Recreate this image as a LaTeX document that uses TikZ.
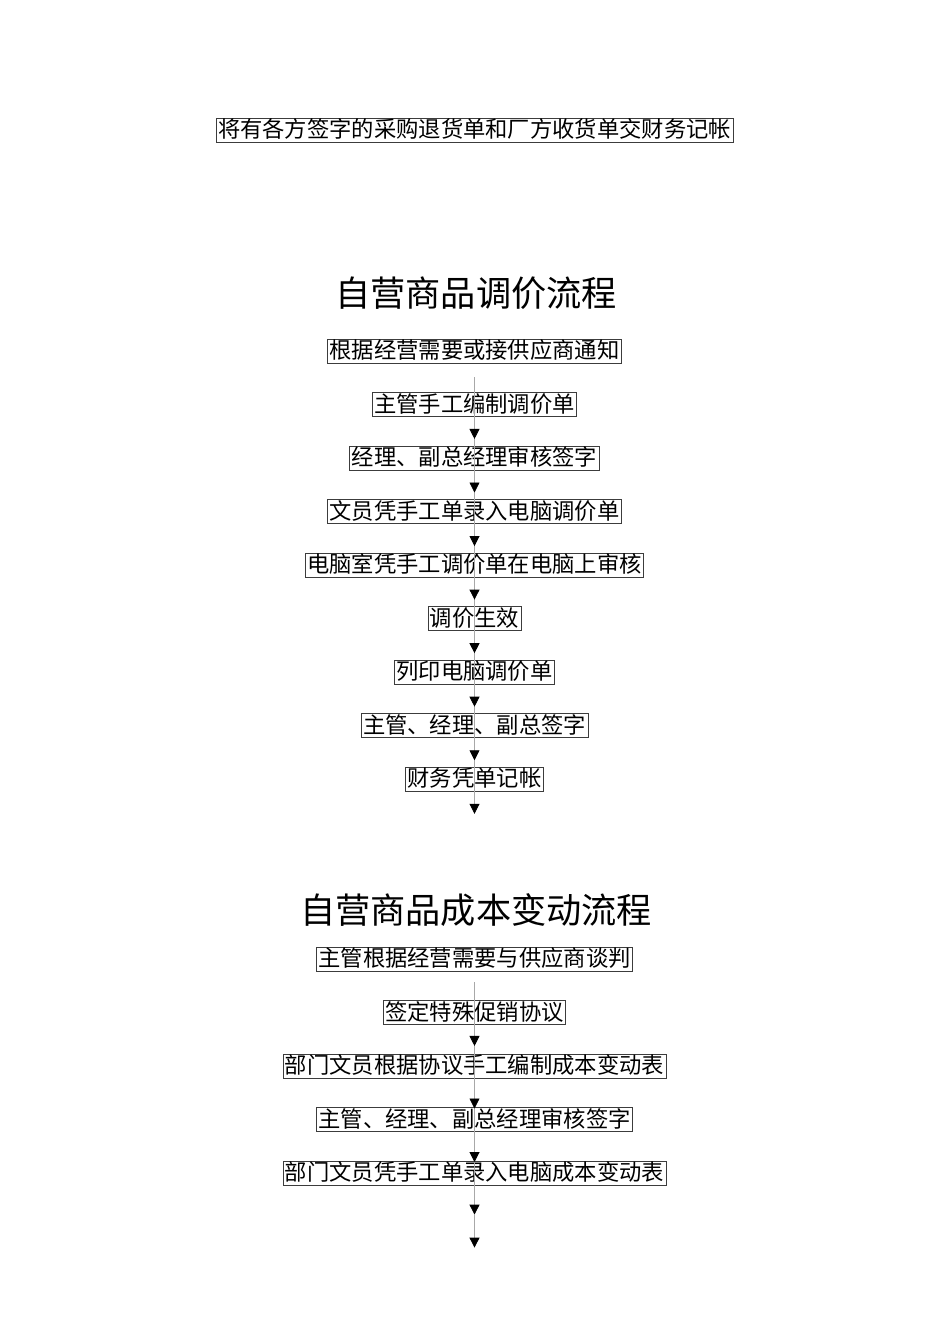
\documentclass[tikz,border=0pt]{standalone}
\usepackage{fontspec}
\newfontfamily\cjk{Noto Sans CJK SC}
\usetikzlibrary{arrows.meta,positioning}
\definecolor{flowgray}{HTML}{A8A8A8}
\definecolor{boxgray}{HTML}{3C3C3C}

\begin{document}
\begin{tikzpicture}[x=1pt,y=-1pt,node distance=28.75pt,
    stepbox/.style={draw=boxgray, line width=0.8pt, inner xsep=2pt, inner ysep=1pt,
        text height=18.5pt, text depth=3.5pt, font=\cjk\fontsize{22.3}{22.3}\selectfont},
    heading/.style={font=\cjk\fontsize{35.2}{35.2}\selectfont},
    flow/.style={draw=flowgray, line width=0.8pt},
    arr/.style={flow, -{Triangle[width=10pt,length=10pt,color=black]}}]
\useasboundingbox (0,0) rectangle (950,1344);

% closing step of the previous flow
\node[stepbox] (last) at (474.5,130) {将有各方签字的采购退货单和厂方收货单交财务记帐};

% price adjustment flow
\node[heading] (title1) at (476,293) {自营商品调价流程};
\node[stepbox] (a1) at (474.5,351) {根据经营需要或接供应商通知};
\node[stepbox, below=of a1] (a2) {主管手工编制调价单};
\node[stepbox, below=of a2] (a3) {经理、副总经理审核签字};
\node[stepbox, below=of a3] (a4) {文员凭手工单录入电脑调价单};
\node[stepbox, below=of a4] (a5) {电脑室凭手工调价单在电脑上审核};
\node[stepbox, below=of a5] (a6) {调价生效};
\node[stepbox, below=of a6] (a7) {列印电脑调价单};
\node[stepbox, below=of a7] (a8) {主管、经理、副总签字};
\node[stepbox, below=of a8] (a9) {财务凭单记帐};

\coordinate (a0) at ([yshift=-14pt]a1.south);
\draw[flow] (a0) -- (a9.south);
\foreach \i in {2,...,9}
    \draw[arr] (a\i.south) -- ++(0,22);

% cost change flow
\node[heading] (title2) at (476,910) {自营商品成本变动流程};
\node[stepbox] (c1) at (474.5,959) {主管根据经营需要与供应商谈判};
\node[stepbox, below=of c1] (c2) {签定特殊促销协议};
\node[stepbox, below=of c2] (c3) {部门文员根据协议手工编制成本变动表};
\node[stepbox, below=of c3] (c4) {主管、经理、副总经理审核签字};
\node[stepbox, below=of c4] (c5) {部门文员凭手工单录入电脑成本变动表};

\coordinate (c0) at ([yshift=-11pt]c1.south);
\coordinate (c6) at ([yshift=-29pt]c5.south);
\draw[flow] (c0) -- (c5.south);
\draw[arr] (c2.south) -- ++(0,21);
\draw[arr] (c3.south) -- ++(0,30);
\draw[arr] (c4.south) -- ++(0,30);
\draw[arr] (c5.south) -- (c6);
\draw[arr] (c6) -- ++(0,33);
\end{tikzpicture}
\end{document}
